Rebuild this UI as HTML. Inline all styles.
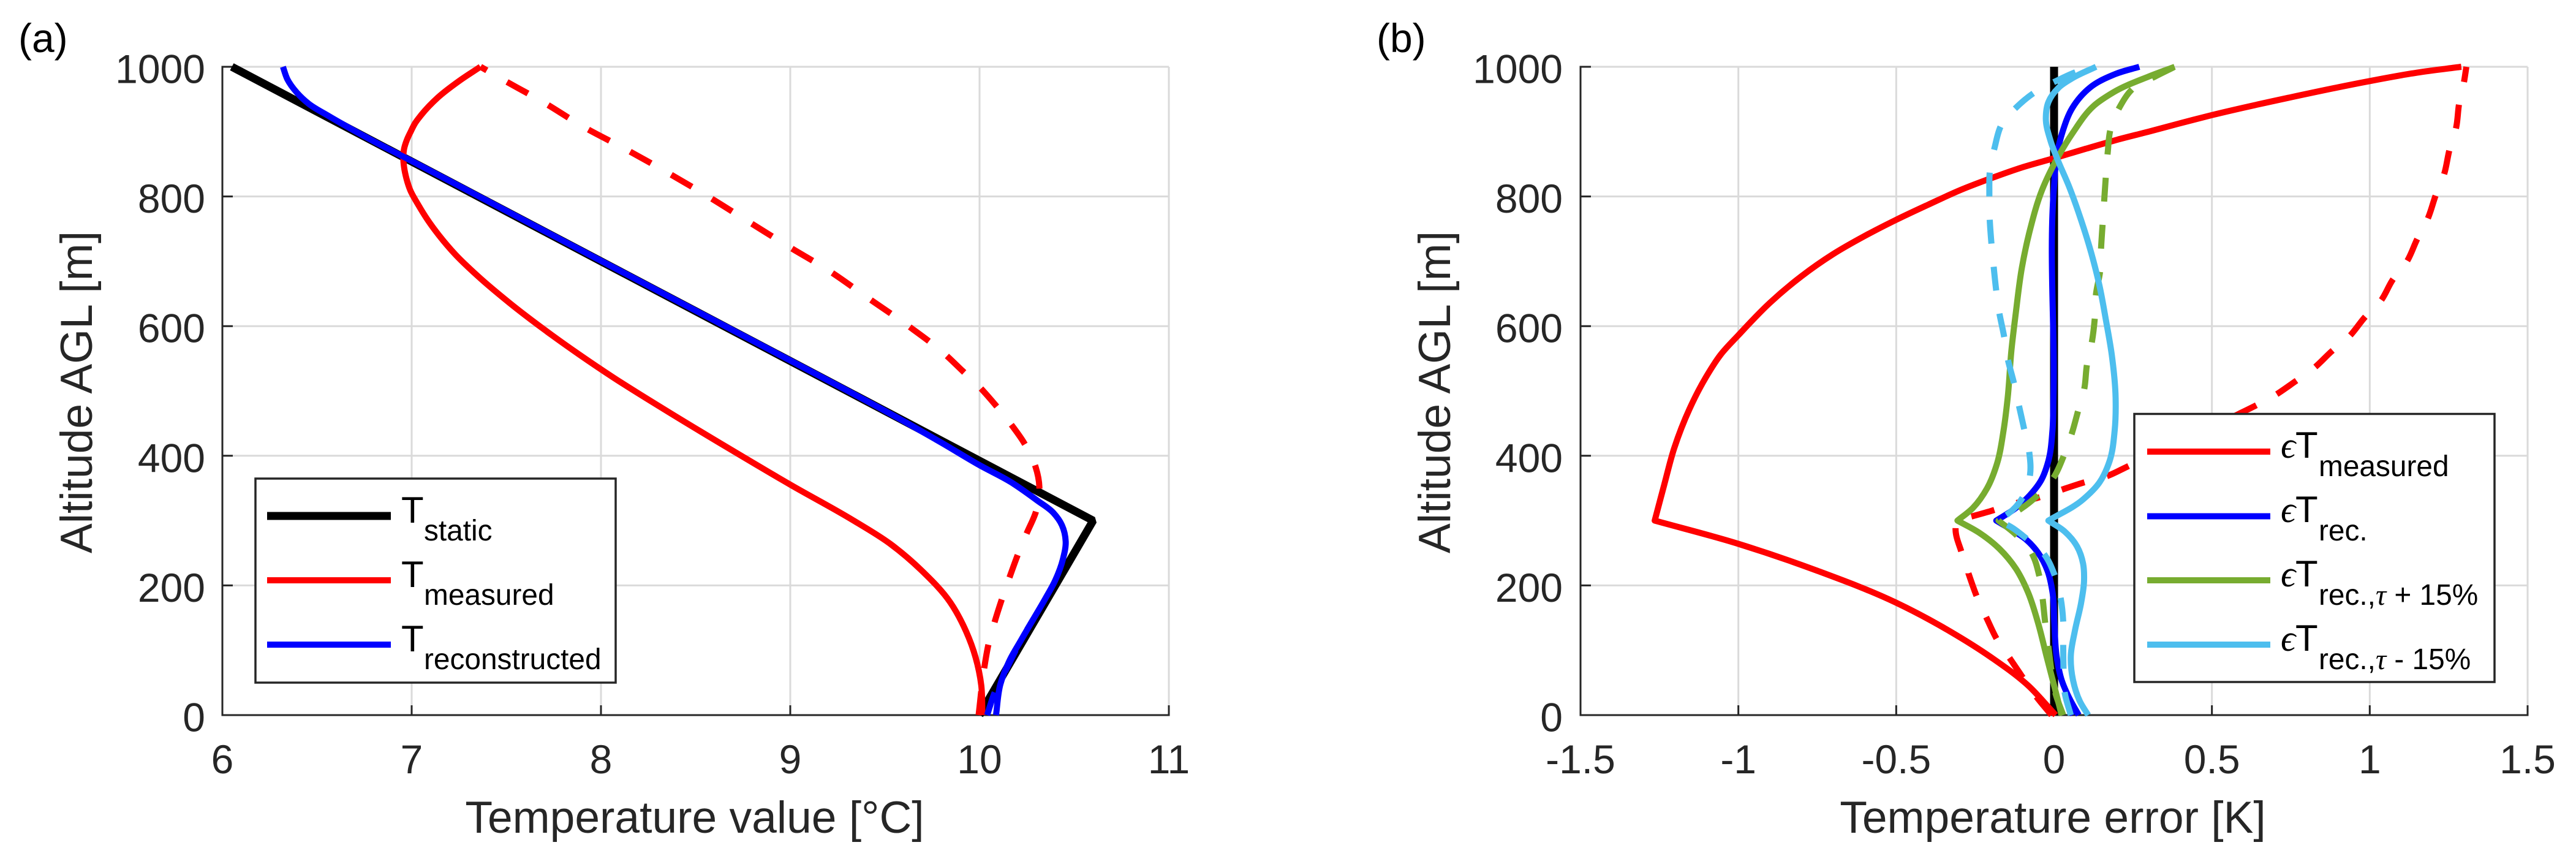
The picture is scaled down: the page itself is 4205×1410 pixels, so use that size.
<!DOCTYPE html>
<html lang="en">
<head>
<meta charset="utf-8">
<title>Temperature profiles and errors</title>
<style>
html,body{margin:0;padding:0;background:#fff;}
svg{display:block;}
text{font-family:"Liberation Sans",Arial,sans-serif;}
.tick{font-size:66px;fill:#262626;}
.axt{font-size:73.2px;fill:#262626;}
.pan{font-size:66px;fill:#000;}
.lg{font-size:60px;fill:#000;}
.ls{font-size:47.8px;fill:#000;}
.gk{font-family:"Liberation Serif","DejaVu Serif",serif;font-style:italic;}
</style>
</head>
<body>
<svg id="figure" xmlns="http://www.w3.org/2000/svg" width="4205" height="1410" viewBox="0 0 4205 1410">
  <rect x="0" y="0" width="4205" height="1410" fill="#fff"/>
  <text class="pan" x="30" y="85">(a)</text>
  <text class="pan" x="2247" y="85">(b)</text>

  <g id="axesA"></g>
  <g id="plotA"></g>
  <g id="axesB"></g>
  <g id="plotB"></g>

  <text class="axt" x="1134" y="1359" text-anchor="middle">Temperature value [°C]</text>
  <text class="axt" transform="translate(150 640) rotate(-90)" text-anchor="middle">Altitude AGL [m]</text>
  <text class="axt" x="3351" y="1359" text-anchor="middle">Temperature error [K]</text>
  <text class="axt" transform="translate(2367 640) rotate(-90)" text-anchor="middle">Altitude AGL [m]</text>

  <g>
    <rect x="417" y="781" width="588" height="333" fill="#fff" stroke="#262626" stroke-width="3.5"/>
    <g>
      <line x1="436" x2="638" y1="842" y2="842" stroke="#000" stroke-width="13"/>
      <text class="lg" x="655" y="853">T</text>
      <text class="ls" x="692" y="882">static</text>
    </g>
    <g>
      <line x1="436" x2="638" y1="947" y2="947" stroke="#f00" stroke-width="10"/>
      <text class="lg" x="655" y="958">T</text>
      <text class="ls" x="692" y="987">measured</text>
    </g>
    <g>
      <line x1="436" x2="638" y1="1052" y2="1052" stroke="#00f" stroke-width="10"/>
      <text class="lg" x="655" y="1063">T</text>
      <text class="ls" x="692" y="1092">reconstructed</text>
    </g>
  </g>

  <g>
    <rect x="3484" y="675.5" width="588" height="437.5" fill="#fff" stroke="#262626" stroke-width="3.5"/>
    <g>
      <line x1="3505" x2="3706" y1="737" y2="737" stroke="#f00" stroke-width="10"/>
      <text class="lg" x="3723" y="747"><tspan class="gk">&#x03F5;</tspan></text>
      <text class="lg" x="3747" y="747">T</text>
      <text class="ls" x="3785" y="777">measured</text>
    </g>
    <g>
      <line x1="3505" x2="3706" y1="842.5" y2="842.5" stroke="#00f" stroke-width="10"/>
      <text class="lg" x="3723" y="852"><tspan class="gk">&#x03F5;</tspan></text>
      <text class="lg" x="3747" y="852">T</text>
      <text class="ls" x="3785" y="882">rec.</text>
    </g>
    <g>
      <line x1="3505" x2="3706" y1="947" y2="947" stroke="#77ac30" stroke-width="10"/>
      <text class="lg" x="3723" y="957"><tspan class="gk">&#x03F5;</tspan></text>
      <text class="lg" x="3747" y="957">T</text>
      <text class="ls" x="3785" y="987">rec.,<tspan class="gk">&#x03C4;</tspan> + 15%</text>
    </g>
    <g>
      <line x1="3505" x2="3706" y1="1052" y2="1052" stroke="#4dbeee" stroke-width="10"/>
      <text class="lg" x="3723" y="1062"><tspan class="gk">&#x03F5;</tspan></text>
      <text class="lg" x="3747" y="1062">T</text>
      <text class="ls" x="3785" y="1092">rec.,<tspan class="gk">&#x03C4;</tspan> - 15%</text>
    </g>
  </g>
</svg>

<script>
// ---------- tick values ----------
const altitudeTicks = [0, 200, 400, 600, 800, 1000];
const tempTicks = [6, 7, 8, 9, 10, 11];
const errorTicks = [-1.5, -1, -0.5, 0, 0.5, 1, 1.5];

// ---------- panel (a): temperature value ----------
const staticAlt = [0, 300, 1000];
const staticTemp = [10, 10.6, 6.05];

const measuredUpAlt = [0, 46, 89, 129, 174, 223, 264, 300, 355, 412, 472, 521, 556, 586, 636, 677, 711, 739, 764, 787, 810, 828, 845, 859, 873.5, 887.5, 900, 913, 925.5, 953, 978, 1000];
const measuredUpTemp = [10.015, 10.009, 9.979, 9.929, 9.845, 9.694, 9.529, 9.335, 9.003, 8.672, 8.332, 8.064, 7.886, 7.741, 7.516, 7.35, 7.229, 7.147, 7.084, 7.035, 6.992, 6.972, 6.96, 6.956, 6.96, 6.975, 6.995, 7.018, 7.05, 7.14, 7.25, 7.363];

const measuredDownAlt = [0, 73, 109, 144, 178, 213, 248, 281, 316, 352, 388, 420, 449, 478, 506, 531, 557, 601, 643, 685, 723, 761, 800, 837, 873, 907, 945, 981, 1000];
const measuredDownTemp = [9.995, 10.025, 10.047, 10.08, 10.117, 10.159, 10.203, 10.25, 10.3, 10.316, 10.29, 10.235, 10.165, 10.085, 10, 9.91, 9.816, 9.62, 9.413, 9.207, 8.99, 8.78, 8.566, 8.35, 8.13, 7.91, 7.698, 7.477, 7.364];

const reconUpAlt = [0, 47.5, 84, 115, 148, 180, 208, 240, 268, 293, 312, 331, 359.5, 385, 420, 450, 550, 650, 750, 860, 885, 905, 925, 943, 960, 981, 1000];
const reconUpTemp = [10.087, 10.11, 10.158, 10.218, 10.284, 10.348, 10.4, 10.44, 10.455, 10.435, 10.39, 10.305, 10.165, 10.003, 9.8, 9.62, 8.98, 8.33, 7.68, 6.965, 6.8, 6.675, 6.556, 6.456, 6.394, 6.343, 6.32];

const reconDownAlt = [0, 35, 70, 115, 148];
const reconDownTemp = [10.04, 10.08, 10.14, 10.218, 10.284];

// ---------- panel (b): temperature error ----------
const zeroAlt = [0, 1000];
const zeroError = [0, 0];

const errMeasuredUpAlt = [0, 46, 89, 129, 174, 223, 264, 300, 355, 412, 472, 521, 556, 586, 636, 677, 711, 739, 764, 787, 810, 828, 845, 859, 873.5, 887.5, 900, 913, 925.5, 953, 978, 991, 1000];
const errMeasuredUpVal = [0.005, -0.083, -0.199, -0.329, -0.503, -0.752, -0.999, -1.265, -1.235, -1.203, -1.155, -1.103, -1.056, -1, -0.9, -0.8, -0.7, -0.6, -0.5, -0.4, -0.296, -0.2, -0.1, 0, 0.1, 0.2, 0.3, 0.4, 0.5, 0.75, 1, 1.15, 1.29];

const errMeasuredDownAlt = [0, 24.5, 58, 86, 116, 149, 182, 217, 251, 286, 300, 315, 326, 335, 346, 358, 369, 383, 465, 477, 494, 514, 536, 561, 584, 614, 639, 671, 700, 734, 766, 802, 835, 871, 907, 943, 978, 1000];
const errMeasuredDownVal = [-0.008, -0.05, -0.099, -0.138, -0.18, -0.213, -0.244, -0.27, -0.293, -0.312, -0.31, -0.199, -0.128, -0.053, 0.014, 0.089, 0.17, 0.231, 0.587, 0.637, 0.702, 0.762, 0.825, 0.879, 0.935, 0.985, 1.035, 1.072, 1.118, 1.15, 1.184, 1.209, 1.236, 1.252, 1.274, 1.283, 1.299, 1.306];

const errRecUpAlt = [0, 24.5, 54, 91, 141, 190, 223, 250, 271, 286, 300, 319.5, 339, 363, 392, 439, 489, 816, 862.5, 900, 936.6, 968, 989, 1000];
const errRecUpVal = [0.078, 0.05, 0.024, 0.008, 0.001, -0.005, -0.021, -0.05, -0.089, -0.135, -0.183, -0.121, -0.077, -0.04, -0.018, -0.005, -0.002, 0, 0.0085, 0.027, 0.058, 0.114, 0.195, 0.27];

const errPlusUpAlt = [0, 44, 91, 141, 190, 226, 256.5, 281.6, 300, 319.6, 350, 389, 439, 489, 563, 621, 690, 747, 810, 857, 898, 939, 961, 985, 1000];
const errPlusUpVal = [0.024, 0.001, -0.024, -0.05, -0.083, -0.121, -0.173, -0.238, -0.306, -0.257, -0.212, -0.18, -0.16, -0.147, -0.135, -0.121, -0.102, -0.077, -0.038, 0.008, 0.059, 0.124, 0.189, 0.3, 0.382];

const errPlusDownAlt = [0, 32.6, 67.5, 106, 142, 178.6, 215, 250, 278, 300, 316, 338, 366, 399, 434, 469, 504, 540, 576, 612, 650, 685, 721, 759, 795, 831, 868, 904, 938, 967, 985, 1000];
const errPlusDownVal = [0.029, 0.005, -0.008, -0.018, -0.028, -0.036, -0.047, -0.071, -0.12, -0.176, -0.112, -0.054, -0.002, 0.03, 0.056, 0.076, 0.096, 0.104, 0.12, 0.129, 0.133, 0.146, 0.149, 0.154, 0.159, 0.164, 0.17, 0.179, 0.208, 0.251, 0.32, 0.382];

const errMinusUpAlt = [0, 21, 54, 91, 130, 174, 207, 233.5, 260, 283, 300, 332.7, 359, 392, 439, 489, 555, 610, 662, 712.5, 763, 816, 857, 885.6, 920, 945.5, 967.6, 983, 1000];
const errMinusUpVal = [0.108, 0.082, 0.06, 0.053, 0.066, 0.086, 0.095, 0.092, 0.073, 0.034, -0.018, 0.092, 0.144, 0.176, 0.192, 0.195, 0.183, 0.164, 0.144, 0.118, 0.086, 0.047, 0.011, -0.011, -0.026, -0.018, 0.014, 0.06, 0.133];

const errMinusDownAlt = [0, 34, 71, 107, 144, 180, 217, 248, 273, 293, 300, 310, 336, 371, 407, 444, 479, 514, 550, 586, 622, 658, 695, 731, 767, 804, 841, 876, 911, 939, 962, 978.5, 993, 1000];
const errMinusDownVal = [0.053, 0.034, 0.03, 0.029, 0.029, 0.021, 0.001, -0.031, -0.089, -0.147, -0.183, -0.147, -0.099, -0.076, -0.079, -0.096, -0.112, -0.128, -0.147, -0.159, -0.174, -0.184, -0.192, -0.199, -0.204, -0.205, -0.203, -0.188, -0.166, -0.116, -0.057, 0.0085, 0.076, 0.133];

const errRecDownAlt = [0, 24.5, 54];
const errRecDownVal = [0.06, 0.04, 0.024];

// ---------- axis functions ----------
const SVG_NS = 'http://www.w3.org/2000/svg';
const yTop = 109, yBottom = 1167;
function scaleAlt(a) { return yBottom + (yTop - yBottom) * a / 1000; }
function scaleTemp(t) { return 363 + (t - 6) * (1908 - 363) / 5; }
function scaleErr(e) { return 2580 + (e + 1.5) * (4126 - 2580) / 3; }

function make(parent, tag, attrs) {
  const node = document.createElementNS(SVG_NS, tag);
  for (const key in attrs) node.setAttribute(key, attrs[key]);
  parent.appendChild(node);
  return node;
}

function drawAxes(group, xTicks, xScale, labelRight) {
  const xLeft = xScale(xTicks[0]);
  const xRight = xScale(xTicks[xTicks.length - 1]);
  xTicks.forEach(function (v) {
    const el = make(group, 'line', { x1: xScale(v), x2: xScale(v), y1: yTop, y2: yBottom, stroke: '#dadada', 'stroke-width': 3 });
    
    
  });
  altitudeTicks.forEach(function (v) {
    const el = make(group, 'line', { x1: xLeft, x2: xRight, y1: scaleAlt(v), y2: scaleAlt(v), stroke: '#dadada', 'stroke-width': 3 });
    
    
  });
  const yAxis = make(group, 'line', { x1: xLeft, x2: xLeft, y1: yTop - 1.5, y2: yBottom + 1.5, stroke: '#262626', 'stroke-width': 3 });
  
  
  const xAxis = make(group, 'line', { x1: xLeft - 1.5, x2: xRight + 1.5, y1: yBottom, y2: yBottom, stroke: '#262626', 'stroke-width': 3 });
  
  
  xTicks.forEach(function (v) {
    const tick = make(group, 'line', { x1: xScale(v), x2: xScale(v), y1: yBottom, y2: yBottom - 16, stroke: '#262626', 'stroke-width': 3 });
    
    
    const label = make(group, 'text', { x: xScale(v), y: 1262, 'text-anchor': 'middle', class: 'tick' });
    
    
    label.textContent = String(v);
  });
  altitudeTicks.forEach(function (v) {
    const tick = make(group, 'line', { x1: xLeft, x2: xLeft + 17, y1: scaleAlt(v), y2: scaleAlt(v), stroke: '#262626', 'stroke-width': 3 });
    
    
    const label = make(group, 'text', { x: labelRight, y: scaleAlt(v) + 26.5, 'text-anchor': 'end', class: 'tick' });
    
    
    label.textContent = String(v);
  });
}

// Smooth path through the points (chord-weighted tangents); a point at cornerAlt stays sharp.
function curvePath(xs, ys, xScale, cornerAlt) {
  const pts = xs.map(function (v, i) { return [xScale(v), scaleAlt(ys[i])]; });
  function handle(i, side) {
    const p = pts[i];
    const hasPrev = i > 0, hasNext = i < pts.length - 1;
    const neighbor = side > 0 ? pts[i + 1] : pts[i - 1];
    const d = Math.hypot(neighbor[0] - p[0], neighbor[1] - p[1]) / 3;
    if (!hasPrev || !hasNext || ys[i] === cornerAlt) {
      return [p[0] + (neighbor[0] - p[0]) / 3, p[1] + (neighbor[1] - p[1]) / 3];
    }
    const prev = pts[i - 1], next = pts[i + 1];
    const d1 = Math.hypot(p[0] - prev[0], p[1] - prev[1]) || 1;
    const d2 = Math.hypot(next[0] - p[0], next[1] - p[1]) || 1;
    const tx = (d2 * (p[0] - prev[0]) / d1 + d1 * (next[0] - p[0]) / d2);
    const ty = (d2 * (p[1] - prev[1]) / d1 + d1 * (next[1] - p[1]) / d2);
    const tl = Math.hypot(tx, ty) || 1;
    return [p[0] + side * d * tx / tl, p[1] + side * d * ty / tl];
  }
  let d = 'M' + pts[0][0].toFixed(2) + ' ' + pts[0][1].toFixed(2);
  for (let i = 0; i < pts.length - 1; i++) {
    const c1 = handle(i, 1), c2 = handle(i + 1, -1), e = pts[i + 1];
    d += 'C' + c1[0].toFixed(2) + ' ' + c1[1].toFixed(2) + ' ' + c2[0].toFixed(2) + ' ' + c2[1].toFixed(2) + ' ' + e[0].toFixed(2) + ' ' + e[1].toFixed(2);
  }
  return d;
}

function drawSeries(group, name, xs, ys, xScale, color, width, dashed, cornerAlt, join) {
  const el = make(group, 'path', {
    d: curvePath(xs, ys, xScale, cornerAlt),
    fill: 'none',
    stroke: color,
    'stroke-width': width,
    'stroke-linecap': 'butt',
    'stroke-linejoin': join || 'round',
    'stroke-dasharray': dashed ? '39 38' : 'none'
  });
  
  
}

const RED = '#ff0000', BLUE = '#0000ff', GREEN = '#77ac30', SKY = '#4dbeee', BLACK = '#000000';

drawAxes(document.getElementById('axesA'), tempTicks, scaleTemp, 335);
drawAxes(document.getElementById('axesB'), errorTicks, scaleErr, 2551);

const plotA = document.getElementById('plotA');
drawSeries(plotA, 'series-t-static', staticTemp, staticAlt, scaleTemp, BLACK, 13, false, 300, 'bevel');
drawSeries(plotA, 'series-t-measured-ascent', measuredUpTemp, measuredUpAlt, scaleTemp, RED, 10, false);
drawSeries(plotA, 'series-t-measured-descent', measuredDownTemp, measuredDownAlt, scaleTemp, RED, 10, true);
drawSeries(plotA, 'series-t-reconstructed-descent', reconDownTemp, reconDownAlt, scaleTemp, BLUE, 10, true);
drawSeries(plotA, 'series-t-reconstructed-ascent', reconUpTemp, reconUpAlt, scaleTemp, BLUE, 10, false);

const plotB = document.getElementById('plotB');
drawSeries(plotB, 'series-zero-error', zeroError, zeroAlt, scaleErr, BLACK, 13, false);
drawSeries(plotB, 'series-error-measured-ascent', errMeasuredUpVal, errMeasuredUpAlt, scaleErr, RED, 10, false, 300);
drawSeries(plotB, 'series-error-measured-descent', errMeasuredDownVal, errMeasuredDownAlt, scaleErr, RED, 10, true, 300);
drawSeries(plotB, 'series-error-rec-ascent', errRecUpVal, errRecUpAlt, scaleErr, BLUE, 10, false, 300);
drawSeries(plotB, 'series-error-rec-descent', errRecDownVal, errRecDownAlt, scaleErr, BLUE, 10, true, 300);
drawSeries(plotB, 'series-error-rec-tau-plus-ascent', errPlusUpVal, errPlusUpAlt, scaleErr, GREEN, 10, false, 300);
drawSeries(plotB, 'series-error-rec-tau-plus-descent', errPlusDownVal, errPlusDownAlt, scaleErr, GREEN, 10, true, 300);
drawSeries(plotB, 'series-error-rec-tau-minus-descent', errMinusDownVal, errMinusDownAlt, scaleErr, SKY, 10, true, 300);
drawSeries(plotB, 'series-error-rec-tau-minus-ascent', errMinusUpVal, errMinusUpAlt, scaleErr, SKY, 10, false, 300);
</script>
</body>
</html>
